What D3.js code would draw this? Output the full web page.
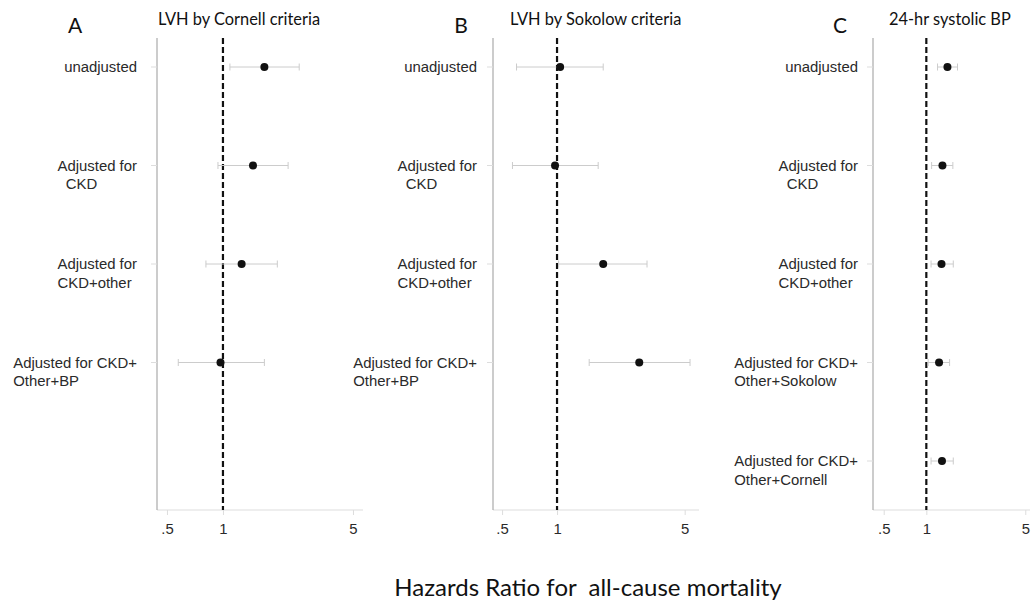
<!DOCTYPE html>
<html>
<head>
<meta charset="utf-8">
<script src="https://cdn.jsdelivr.net/npm/d3@7"></script>
<style>
  body { margin: 0; background: #fff; }
  svg { display: block; }
  .row-label { font-family: "Liberation Sans", Arial, sans-serif; font-size: 14.9px; fill: #2a2a2a; }
  .tick-label { font-family: "Liberation Sans", Arial, sans-serif; font-size: 14.9px; fill: #2a2a2a; }
  .panel-title { font-family: Lato, "Open Sans", sans-serif; font-size: 16.4px; fill: #111; }
  .panel-letter { font-family: Lato, "Open Sans", sans-serif; font-size: 21px; fill: #111; }
  .x-title { font-family: Lato, "Open Sans", sans-serif; font-size: 24px; fill: #111; white-space: pre; }
</style>
</head>
<body>
<div id="chart"></div>
<script>
// row labels (multi-line)
const labelsAB = [
  ['unadjusted'],
  ['Adjusted for', '  CKD'],
  ['Adjusted for', 'CKD+other'],
  ['Adjusted for CKD+', 'Other+BP']
];
const labelsC = [
  ['unadjusted'],
  ['Adjusted for', '  CKD'],
  ['Adjusted for', 'CKD+other'],
  ['Adjusted for CKD+', 'Other+Sokolow'],
  ['Adjusted for CKD+', 'Other+Cornell']
];

// hazard ratios and 95% CI
const cornellHR   = [1.67, 1.45, 1.26, 0.97];
const cornellLow  = [1.09, 0.94, 0.81, 0.575];
const cornellHigh = [2.57, 2.24, 1.96, 1.67];

const sokolowHR   = [1.04, 0.975, 1.79, 2.82];
const sokolowLow  = [0.60, 0.57, 1.02, 1.50];
const sokolowHigh = [1.79, 1.68, 3.11, 5.35];

const sbpHR   = [1.41, 1.30, 1.28, 1.23, 1.29];
const sbpLow  = [1.20, 1.09, 1.08, 1.03, 1.08];
const sbpHigh = [1.66, 1.54, 1.55, 1.46, 1.55];

const xTicks = [0.5, 1, 5];
const xTickLabels = ['.5', '1', '5'];

const panels = [
  { letter: 'A', title: 'LVH by Cornell criteria', labels: labelsAB, hr: cornellHR, lo: cornellLow, hi: cornellHigh,
    x0: 157, x1: 363, domain: [0.442, 5.66], labelX: 137, letterX: 75, titleX: 158 },
  { letter: 'B', title: 'LVH by Sokolow criteria', labels: labelsAB, hr: sokolowHR, lo: sokolowLow, hi: sokolowHigh,
    x0: 493, x1: 699, domain: [0.446, 5.99], labelX: 477, letterX: 461, titleX: 510 },
  { letter: 'C', title: '24-hr systolic BP', labels: labelsC, hr: sbpHR, lo: sbpLow, hi: sbpHigh,
    x0: 873, x1: 1030, domain: [0.42, 5.4], labelX: 858, letterX: 840, titleX: 889 }
];

const width = 1031, height = 601;
const plotTop = 38, plotBottom = 510;
const rowY = d3.scalePoint().domain(d3.range(5)).range([67, 461]);

const svg = d3.select('#chart').append('svg')
  .attr('width', width)
  .attr('height', height);

panels.forEach(p => {
  const g = svg.append('g');
  const x = d3.scaleLog().domain(p.domain).range([p.x0, p.x1]);

  // 轴线
  g.append('line')
    .attr('x1', p.x0).attr('x2', p.x1)
    .attr('y1', plotBottom).attr('y2', plotBottom)
    .attr('stroke', '#ddd').attr('stroke-width', 1);
  g.append('line')
    .attr('x1', p.x0).attr('x2', p.x0)
    .attr('y1', plotTop).attr('y2', plotBottom)
    .attr('stroke', '#999').attr('stroke-width', 1);

  // x轴刻度
  const xAxis = d3.axisBottom(x)
    .tickValues(xTicks)
    .tickFormat((d, i) => xTickLabels[i])
    .tickSize(5)
    .tickPadding(8);
  const ax = g.append('g')
    .attr('transform', `translate(0,${plotBottom})`)
    .call(xAxis);
  ax.select('.domain').remove();
  ax.selectAll('.tick line').attr('stroke', '#ddd');
  ax.attr('font-family', null).attr('font-size', null);
  ax.selectAll('.tick text')
    .attr('class', 'tick-label')
    .attr('fill', null);

  // y轴刻度
  p.labels.forEach((lines, i) => {
    const y = rowY(i);
    g.append('line')
      .attr('x1', p.x0 - 6).attr('x2', p.x0)
      .attr('y1', y).attr('y2', y)
      .attr('stroke', '#ddd');
    const first = g.append('text')
      .attr('class', 'row-label')
      .attr('x', p.labelX).attr('y', y + 5)
      .attr('text-anchor', 'end')
      .text(lines[0]);
    if (lines.length > 1) {
      const w = first.node().getComputedTextLength();
      g.append('text')
        .attr('class', 'row-label')
        .attr('x', p.labelX - w).attr('y', y + 23.5)
        .style('white-space', 'pre')
        .text(lines[1]);
    }
  });

  // 参考线 HR = 1
  g.append('line')
    .attr('x1', x(1)).attr('x2', x(1))
    .attr('y1', plotTop).attr('y2', plotBottom)
    .attr('stroke', '#111').attr('stroke-width', 2.2)
    .attr('stroke-dasharray', '6,3');

  // 置信区间
  p.hr.forEach((v, i) => {
    const y = rowY(i);
    const lo = x(p.lo[i]), hi = x(p.hi[i]);
    g.append('line')
      .attr('x1', lo).attr('x2', hi)
      .attr('y1', y).attr('y2', y)
      .attr('stroke', '#ccc').attr('stroke-width', 1);
    [lo, hi].forEach(cx => {
      g.append('line')
        .attr('x1', cx).attr('x2', cx)
        .attr('y1', y - 3.5).attr('y2', y + 3.5)
        .attr('stroke', '#ccc').attr('stroke-width', 1);
    });
    g.append('circle')
      .attr('cx', x(v)).attr('cy', y)
      .attr('r', 4)
      .attr('fill', '#111');
  });

  // 标题
  g.append('text')
    .attr('class', 'panel-letter')
    .attr('x', p.letterX).attr('y', 33)
    .attr('text-anchor', 'middle')
    .text(p.letter);
  g.append('text')
    .attr('class', 'panel-title')
    .attr('x', p.titleX).attr('y', 25)
    .text(p.title);
});

svg.append('text')
  .attr('class', 'x-title')
  .attr('x', 588).attr('y', 596)
  .attr('text-anchor', 'middle')
  .text('Hazards Ratio for  all-cause mortality');
</script>
</body>
</html>
